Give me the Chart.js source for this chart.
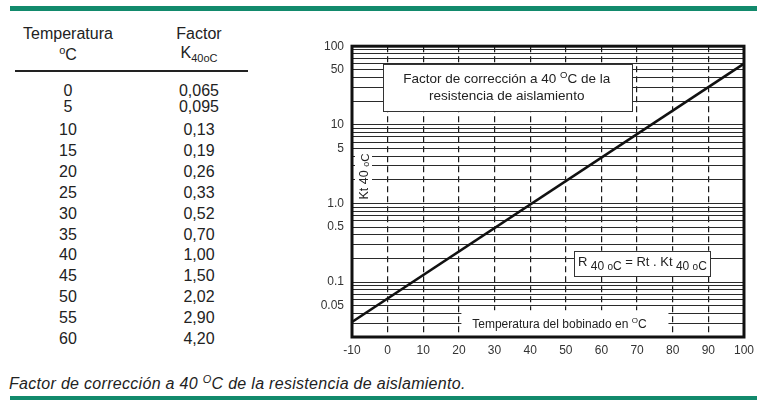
<!DOCTYPE html>
<html>
<head>
<meta charset="utf-8">
<script src="https://cdn.jsdelivr.net/npm/chart.js@4"></script>
<style>
  body { margin: 0; background: #fff; font-family: "Liberation Sans", Arial, sans-serif; color: #222; }
  .wrap { position: relative; width: 768px; height: 411px; overflow: hidden; }
  .bar { position: absolute; left: 10px; width: 747px; background: #128a6c; }
  .hdr { position: absolute; font-size: 16px; text-align: center; width: 120px; }
  .cell { position: absolute; font-size: 16px; text-align: center; width: 100px; line-height: 18px; }
  .rule { position: absolute; left: 15px; top: 70px; width: 233px; height: 2px; background: #222; }
  .caption { position: absolute; left: 9px; top: 373px; font-size: 16px; letter-spacing: 0.3px; font-style: italic; color: #222; }
  .caption sup { font-size: 11px; }
  #chartBox { position: absolute; left: 300px; top: 31px; }
</style>
</head>
<body>
<div class="wrap" id="page">
  <div class="bar" style="top:6px;height:5px"></div>
  <div class="bar" style="top:396px;height:4px"></div>

  <div class="hdr" style="left:8px;top:25px">Temperatura</div>
  <div class="hdr" style="left:8px;top:44px"><sup style="font-size:11px">o</sup>C</div>
  <div class="hdr" style="left:139px;top:25px">Factor</div>
  <div class="hdr" style="left:139px;top:44px">K<sub style="font-size:11px">40oC</sub></div>
  <div class="rule"></div>
  <div id="rows"></div>

  <div class="caption">Factor de corrección a 40 <sup>O</sup>C de la resistencia de aislamiento.</div>

  <div id="chartBox"><canvas id="myChart" width="460" height="330"></canvas></div>
</div>

<script>
// table values
const tableTemps = [0, 5, 10, 15, 20, 25, 30, 35, 40, 45, 50, 55, 60];
const tableFactors = [0.065, 0.095, 0.13, 0.19, 0.26, 0.33, 0.52, 0.70, 1.00, 1.50, 2.02, 2.90, 4.20];

// the straight line on the log chart (read at its two ends)
const lineTemps = [-10, 100];
const lineKt = [0.031, 60];

// axis ticks
const xTicks = [-10, 0, 10, 20, 30, 40, 50, 60, 70, 80, 90, 100];
const yTickValues = [0.05, 0.1, 0.5, 1, 5, 10, 50, 100];
const yTickLabels = ["0.05", "0.1", "0.5", "1.0", "5", "10", "50", "100"];

const FONT = '"Liberation Sans", Arial, sans-serif';

// build the table rows
const rows = document.getElementById("rows");
tableTemps.forEach((t, i) => {
  const top = i < 2 ? 82 + 16 * i : 121 + 20.9 * (i - 2);
  const f = tableFactors[i].toFixed(tableFactors[i] < 0.1 ? 3 : 2).replace(".", ",");
  rows.insertAdjacentHTML("beforeend",
    `<div class="cell" style="left:18px;top:${top}px">${t}</div>` +
    `<div class="cell" style="left:149px;top:${top}px">${f}</div>`);
});

// grid values for the log axis: 1..9 of each decade
const yGrid = [];
[0.01, 0.1, 1, 10].forEach(d => {
  for (let m = 1; m <= 9; m++) {
    const v = +(m * d).toPrecision(3);
    if (v >= 0.02 && v <= 100) yGrid.push(v);
  }
});
yGrid.push(100);

function drawRich(ctx, segs, x, y, align) {
  let w = 0;
  segs.forEach(s => { ctx.font = s[1] + "px " + FONT; w += ctx.measureText(s[0]).width; });
  let cx = align === "center" ? x - w / 2 : x;
  segs.forEach(s => {
    ctx.font = s[1] + "px " + FONT;
    ctx.fillText(s[0], cx, y + (s[2] || 0));
    cx += ctx.measureText(s[0]).width;
  });
}

function whiteBox(ctx, x1, y1, x2, y2, border) {
  ctx.fillStyle = "#fff";
  ctx.fillRect(x1, y1, x2 - x1, y2 - y1);
  if (border) {
    ctx.strokeStyle = "#333";
    ctx.lineWidth = 1;
    ctx.strokeRect(Math.round(x1) + 0.5, Math.round(y1) + 0.5, Math.round(x2 - x1), Math.round(y2 - y1));
  }
}

// notes drawn on top of the plot, placed in data units
const boxesPlugin = {
  id: "boxes",
  afterDraw(chart) {
    const ctx = chart.ctx;
    const xs = chart.scales.x, ys = chart.scales.y, a = chart.chartArea;
    ctx.save();
    ctx.textBaseline = "alphabetic";

    // title box
    let x1 = xs.getPixelForValue(-1.3), x2 = xs.getPixelForValue(68.7);
    let y1 = ys.getPixelForValue(59), y2 = ys.getPixelForValue(15);
    whiteBox(ctx, x1, y1, x2, y2, true);
    ctx.fillStyle = "#222";
    drawRich(ctx, [["Factor de corrección a 40 ", 13.5], ["O", 9.5, -5], ["C de la", 13.5]], (x1 + x2) / 2 - 1, y1 + 19, "center");
    drawRich(ctx, [["resistencia de aislamiento", 13.5]], (x1 + x2) / 2 - 1, y1 + 36, "center");

    // formula box
    x1 = xs.getPixelForValue(52.3); x2 = xs.getPixelForValue(90.5);
    y1 = ys.getPixelForValue(0.25); y2 = ys.getPixelForValue(0.121);
    whiteBox(ctx, x1, y1, x2, y2, true);
    ctx.fillStyle = "#222";
    drawRich(ctx, [["R", 13], [" 40 ", 12, 4], ["o", 10, 4], ["C", 12, 4], [" = Rt . Kt", 13], [" 40 ", 12, 4], ["o", 10, 4], ["C", 12, 4]], x1 + 4, (y1 + y2) / 2 + 3, "left");

    // x axis title inside the plot
    x1 = xs.getPixelForValue(20.7); x2 = xs.getPixelForValue(78.8);
    y1 = ys.getPixelForValue(0.0438);
    whiteBox(ctx, x1, y1, x2, a.bottom, false);
    ctx.fillStyle = "#222";
    drawRich(ctx, [["Temperatura del bobinado en ", 12], ["O", 8, -5], ["C", 12]], xs.getPixelForValue(48.2), y1 + 18, "center");

    // y axis title inside the plot, rotated
    const ly1 = ys.getPixelForValue(4.6), ly2 = ys.getPixelForValue(1.05);
    whiteBox(ctx, a.left + 3, ly1, a.left + 20, ly2, false);
    ctx.translate(a.left + 16, (ly1 + ly2) / 2);
    ctx.rotate(-Math.PI / 2);
    ctx.fillStyle = "#222";
    drawRich(ctx, [["Kt 40 ", 12.5], ["o", 9, 1], ["C", 11.5, 1]], 0, 0, "center");
    ctx.restore();

    // heavy frame
    ctx.save();
    ctx.strokeStyle = "#111";
    ctx.lineWidth = 3;
    ctx.strokeRect(a.left, a.top, a.right - a.left, a.bottom - a.top);
    ctx.restore();
  }
};

Chart.defaults.font.family = FONT;
Chart.defaults.color = "#333";

let myChart = document.getElementById("myChart").getContext("2d");
myChart = new Chart(myChart, {
  type: "line",
  data: {
    datasets: [
      {
        data: lineTemps.map((t, i) => ({ x: t, y: lineKt[i] })),
        borderColor: "#111",
        borderWidth: 2.5,
        pointRadius: 0,
        tension: 0
      }
    ]
  },
  options: {
    responsive: false,
    animation: false,
    devicePixelRatio: 1,
    layout: { padding: { top: 5, right: 14, left: 0, bottom: 0 } },
    plugins: { legend: { display: false }, tooltip: { enabled: false } },
    scales: {
      x: {
        type: "linear",
        min: -10,
        max: 100,
        afterBuildTicks: s => { s.ticks = xTicks.map(v => ({ value: v })); },
        afterFit: s => { s.height = 24; },
        ticks: { font: { size: 12 }, padding: 6, color: "#333" },
        grid: {
          drawTicks: false,
          color: c => (c.tick && (c.tick.value === -10 || c.tick.value === 100)) ? "rgba(0,0,0,0)" : "#1a1a1a",
          lineWidth: 1.2
        },
        border: { display: false, dash: [6, 4] }
      },
      y: {
        type: "logarithmic",
        min: 0.02,
        max: 100,
        afterBuildTicks: s => { s.ticks = yGrid.map(v => ({ value: v })); },
        afterFit: s => { s.width = 52; },
        ticks: {
          font: { size: 12 },
          padding: 8,
          color: "#333",
          autoSkip: false,
          callback: v => {
            const i = yTickValues.findIndex(t => Math.abs(t - v) / t < 1e-6);
            return i >= 0 ? yTickLabels[i] : "";
          }
        },
        grid: { drawTicks: false, color: "#2a2a2a", lineWidth: 1 },
        border: { display: false }
      }
    }
  },
  plugins: [boxesPlugin]
});
</script>
</body>
</html>
